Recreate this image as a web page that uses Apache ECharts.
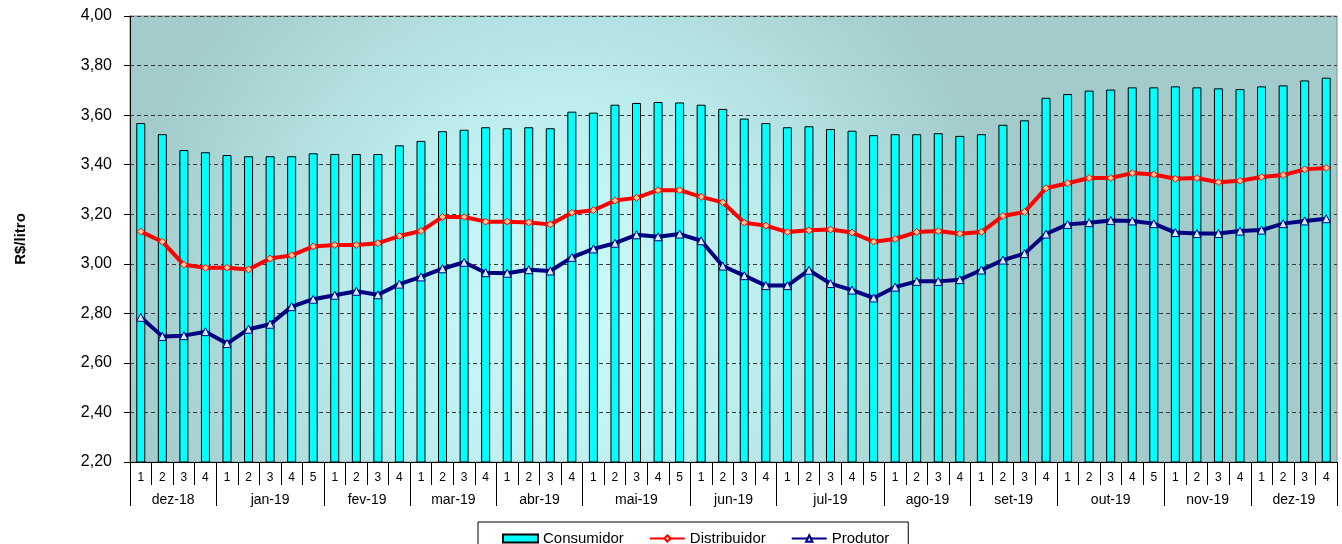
<!DOCTYPE html>
<html>
<head>
<meta charset="utf-8">
<script src="https://cdn.jsdelivr.net/npm/echarts@6/dist/echarts.min.js"></script>
<style>
html,body{margin:0;padding:0;background:#fff;}
#chart{width:1342px;height:544px;}
</style>
</head>
<body>
<div id="chart"></div>
<script>
// ---- data ----
const months = ['dez-18','jan-19','fev-19','mar-19','abr-19','mai-19','jun-19','jul-19','ago-19','set-19','out-19','nov-19','dez-19'];
const weeksPerMonth = [4,5,4,4,4,5,4,5,4,4,5,4,4];
const yTicks = [2.2, 4.0, 0.2]; // min, max, interval

const consumidor = [3.568,3.523,3.459,3.450, 3.439,3.434,3.434,3.434,3.446, 3.443,3.443,3.443,3.478, 3.496,3.535,3.541,3.551, 3.547,3.551,3.547,3.614, 3.610,3.642,3.649,3.653,3.651, 3.642,3.625,3.586,3.568, 3.551,3.555,3.544,3.537,3.519, 3.523,3.523,3.527,3.516, 3.523,3.561,3.579,3.670, 3.685,3.699,3.703,3.712,3.712, 3.716,3.712,3.708,3.705, 3.716,3.720,3.740,3.751];
const distribuidor = [3.130,3.089,2.996,2.984, 2.984,2.977,3.021,3.034,3.070, 3.076,3.076,3.083,3.112, 3.132,3.189,3.189,3.170, 3.170,3.167,3.159,3.206, 3.216,3.255,3.266,3.297,3.297, 3.270,3.248,3.166,3.154, 3.128,3.135,3.138,3.126,3.089, 3.100,3.128,3.132,3.121, 3.128,3.193,3.209,3.305, 3.325,3.346,3.346,3.366,3.360, 3.343,3.346,3.329,3.335, 3.350,3.358,3.381,3.387];
const produtor = [2.784,2.707,2.710,2.726, 2.678,2.736,2.756,2.827,2.857, 2.873,2.889,2.875,2.918, 2.947,2.980,3.006,2.964, 2.962,2.976,2.971,3.026, 3.060,3.083,3.117,3.109,3.120, 3.093,2.991,2.952,2.912, 2.912,2.974,2.920,2.894,2.862, 2.906,2.929,2.929,2.936, 2.975,3.015,3.041,3.120, 3.159,3.166,3.175,3.173,3.162, 3.126,3.122,3.122,3.132, 3.136,3.162,3.173,3.182];

// ---- derived axis data ----
const weekLabels = [];
weeksPerMonth.forEach(n => { for (let i = 1; i <= n; i++) weekLabels.push(String(i)); });
const nWeeks = weekLabels.length;
const halfSlots = [];
for (let i = 0; i <= nWeeks * 2; i++) halfSlots.push('h' + i);
const boundarySet = new Set([0]);
const centerMap = {};
let cum = 0;
weeksPerMonth.forEach((n, m) => {
  centerMap[cum * 2 + n] = months[m];
  cum += n;
  boundarySet.add(cum * 2);
});

const FONT = '"Liberation Sans", Arial, sans-serif';
const chart = echarts.init(document.getElementById('chart'), null, {renderer: 'canvas'});
chart.setOption({
  animation: false,
  backgroundColor: '#ffffff',
  textStyle: {fontFamily: FONT, color: '#000'},
  grid: {
    left: 130, right: 5, top: 16, bottom: 82,
    show: true,
    borderColor: '#8a8a8a', borderWidth: 1,
    backgroundColor: {
      type: 'radial', x: 0.36, y: 0.64, r: 1.0,
      colorStops: [
        {offset: 0, color: '#cdfbfb'},
        {offset: 0.45, color: '#bdeded'},
        {offset: 1, color: '#a3cbcb'}
      ]
    }
  },
  legend: {
    left: 478, top: 522,
    padding: [9, 19, 10, 24],
    itemGap: 25,
    itemWidth: 35, itemHeight: 8,
    borderColor: '#000', borderWidth: 1,
    backgroundColor: '#fff',
    textStyle: {fontFamily: FONT, fontSize: 15, color: '#000'},
    data: [
      {name: 'Consumidor', icon: 'rect'},
      {name: 'Distribuidor'},
      {name: 'Produtor'}
    ]
  },
  xAxis: [
    {
      type: 'category',
      data: weekLabels,
      boundaryGap: true,
      axisLine: {show: true, lineStyle: {color: '#000', width: 1}},
      axisTick: {show: true, interval: 0, length: 23, lineStyle: {color: '#000'}},
      axisLabel: {interval: 0, margin: 10, fontSize: 12, color: '#000', fontFamily: FONT},
      splitLine: {show: false}
    },
    {
      type: 'category',
      data: halfSlots,
      boundaryGap: false,
      position: 'bottom',
      axisLine: {show: true, lineStyle: {color: '#000', width: 1}},
      axisTick: {show: true, length: 44, lineStyle: {color: '#000'},
        interval: (idx) => boundarySet.has(idx)},
      axisLabel: {margin: 31, fontSize: 14, color: '#000', fontFamily: FONT,
        interval: (idx) => centerMap[idx] !== undefined,
        formatter: (v, idx) => centerMap[idx] || ''},
      splitLine: {show: false}
    }
  ],
  yAxis: {
    type: 'value',
    min: yTicks[0], max: yTicks[1], interval: yTicks[2],
    name: 'R$/litro',
    nameLocation: 'middle',
    nameRotate: 90,
    nameGap: 102,
    nameTextStyle: {fontFamily: FONT, fontSize: 15, fontWeight: 'bold', color: '#000'},
    axisLine: {show: true, lineStyle: {color: '#000', width: 1}},
    axisTick: {show: true, length: 6, lineStyle: {color: '#000'}},
    axisLabel: {margin: 18, fontSize: 16, color: '#000', fontFamily: FONT,
      formatter: v => v.toFixed(2).replace('.', ',')},
    splitLine: {show: true, lineStyle: {color: '#3a3a3a', type: [4, 3], width: 1}}
  },
  series: [
    {
      name: 'Consumidor', type: 'bar', xAxisIndex: 0,
      data: consumidor, barWidth: 9,
      itemStyle: {color: '#00ffff', borderColor: '#000', borderWidth: 1},
      z: 2
    },
    {
      name: 'Distribuidor', type: 'line', xAxisIndex: 0,
      data: distribuidor,
      symbol: 'diamond', symbolSize: 7, showAllSymbol: true,
      lineStyle: {color: '#ff0000', width: 4},
      itemStyle: {color: '#ffcc99', borderColor: '#ff0000', borderWidth: 1},
      z: 3
    },
    {
      name: 'Produtor', type: 'line', xAxisIndex: 0,
      data: produtor,
      symbol: 'triangle', symbolSize: 8, showAllSymbol: true,
      lineStyle: {color: '#000080', width: 4},
      itemStyle: {color: '#cceeff', borderColor: '#000080', borderWidth: 1},
      z: 4
    }
  ]
});
</script>
</body>
</html>
